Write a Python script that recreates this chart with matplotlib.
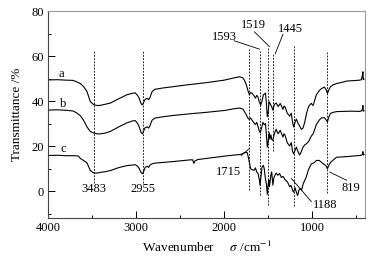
import numpy as np
import matplotlib
matplotlib.use("Agg")
import matplotlib.pyplot as plt
from matplotlib.ticker import MultipleLocator

plt.rcParams['font.family'] = ['Liberation Serif', 'DejaVu Serif']
plt.rcParams['mathtext.fontset'] = 'stix'

# spectrum a  (wavenumber cm-1, transmittance %)
curve_a = [
    (4000, 49.4), (3900, 49.5), (3800, 49.3), (3720, 49.2), (3680, 48.6), (3636, 47.8),
    (3600, 46.5), (3560, 44.2), (3523, 39.8), (3485, 38.4), (3440, 38.0), (3409, 38.1),
    (3350, 38.6), (3295, 39.1), (3200, 41.0), (3106, 42.8), (3040, 43.5), (3011, 43.6),
    (2985, 42.5), (2966, 41.2), (2945, 38.8), (2930, 38.3), (2915, 39.5), (2898, 40.8),
    (2875, 41.2), (2860, 40.6), (2845, 41.5), (2820, 44.2), (2790, 45.2), (2700, 45.8),
    (2580, 46.4), (2400, 47.3), (2200, 48.2), (2000, 49.3), (1900, 50.2), (1828, 50.8),
    (1790, 50.4), (1771, 49.3), (1750, 47.5), (1732, 44.9), (1714, 42.8), (1700, 43.8),
    (1683, 43.5), (1660, 42.3), (1645, 41.3), (1630, 42.5), (1618, 42.0), (1600, 39.5),
    (1585, 38.2), (1570, 40.0), (1554, 42.8), (1531, 43.5), (1520, 39.0), (1510, 33.0),
    (1500, 35.0), (1490, 39.8), (1475, 38.5), (1460, 37.5), (1447, 36.0), (1430, 38.5),
    (1409, 39.1), (1395, 38.2), (1386, 37.6), (1363, 38.9), (1345, 37.5), (1332, 36.3),
    (1320, 37.8), (1306, 37.2), (1283, 34.6), (1256, 33.3), (1237, 34.6), (1225, 31.0),
    (1211, 28.5), (1195, 30.5), (1180, 32.0), (1160, 30.0), (1143, 29.0), (1123, 27.4),
    (1104, 28.0), (1085, 30.5), (1066, 34.1), (1050, 36.5), (1032, 38.1), (1009, 39.0),
    (995, 38.1), (986, 38.3), (970, 40.5), (952, 42.8), (920, 44.6), (895, 45.5),
    (861, 46.2), (840, 45.0), (826, 43.3), (810, 45.0), (792, 46.4), (761, 47.2),
    (723, 47.8), (650, 48.4), (609, 48.9), (520, 49.1), (460, 49.3), (440, 49.5),
    (428, 51.5), (423, 53.0), (419, 49.5), (410, 49.8),
]

# spectrum b
curve_b = [
    (4000, 36.0), (3900, 36.1), (3800, 35.9), (3720, 35.6), (3680, 34.8), (3636, 33.5),
    (3600, 31.5), (3560, 28.5), (3523, 26.5), (3485, 25.8), (3440, 25.4), (3409, 25.4),
    (3350, 25.8), (3295, 26.5), (3200, 28.5), (3106, 30.3), (3040, 31.2), (3011, 31.3),
    (2985, 30.0), (2966, 28.5), (2945, 26.0), (2930, 25.4), (2915, 26.8), (2898, 28.2),
    (2875, 28.5), (2860, 28.0), (2845, 29.0), (2820, 31.5), (2790, 32.4), (2700, 33.0),
    (2580, 33.6), (2400, 34.3), (2200, 35.0), (2000, 35.8), (1900, 36.5), (1828, 36.9),
    (1790, 36.5), (1771, 35.4), (1750, 34.0), (1732, 32.5), (1714, 31.8), (1700, 32.5),
    (1683, 31.5), (1660, 30.2), (1645, 29.6), (1630, 30.5), (1618, 29.0), (1600, 26.5),
    (1590, 26.0), (1575, 28.0), (1560, 30.5), (1545, 29.5), (1531, 30.0), (1520, 25.0),
    (1510, 19.5), (1500, 22.0), (1490, 26.0), (1480, 23.0), (1470, 25.0), (1460, 23.0),
    (1447, 22.5), (1430, 25.5), (1409, 27.5), (1395, 26.0), (1386, 25.5), (1363, 27.0),
    (1345, 25.2), (1332, 24.0), (1320, 25.5), (1306, 24.5), (1283, 21.5), (1256, 20.0),
    (1237, 21.5), (1225, 18.0), (1211, 16.5), (1195, 18.0), (1180, 19.5), (1160, 17.5),
    (1143, 16.0), (1123, 17.5), (1104, 19.5), (1085, 20.5), (1066, 21.0), (1040, 22.0),
    (1009, 24.5), (989, 25.4), (970, 27.5), (952, 29.6), (920, 31.5), (895, 32.5),
    (860, 32.6), (840, 31.5), (826, 30.8), (810, 33.0), (792, 34.5), (760, 35.0),
    (723, 35.3), (650, 35.4), (560, 35.5), (460, 35.4), (440, 35.6), (428, 36.5),
    (423, 38.0), (419, 35.5), (410, 35.7),
]

# spectrum c
curve_c = [
    (4000, 15.8), (3900, 15.9), (3800, 15.7), (3720, 15.7), (3660, 15.6), (3636, 14.5),
    (3600, 13.6), (3560, 12.5), (3523, 9.2), (3485, 8.0), (3440, 8.0), (3409, 8.3),
    (3350, 8.6), (3295, 9.1), (3200, 10.4), (3106, 11.3), (3011, 11.7), (2985, 11.0),
    (2966, 10.0), (2945, 8.2), (2930, 7.7), (2915, 8.8), (2898, 10.6), (2875, 11.0),
    (2860, 10.5), (2845, 11.5), (2820, 12.1), (2790, 12.4), (2580, 13.1), (2400, 13.8),
    (2360, 13.9), (2345, 12.3), (2335, 13.3), (2300, 14.0), (2000, 15.5), (1930, 15.8),
    (1807, 16.3), (1770, 17.0), (1740, 17.2), (1725, 15.0), (1700, 9.9), (1683, 9.5),
    (1660, 9.2), (1645, 10.3), (1630, 8.5), (1615, 7.7), (1600, 5.0), (1593, 2.6),
    (1580, 7.0), (1570, 10.6), (1555, 11.4), (1545, 10.0), (1535, 6.5), (1520, 3.0),
    (1510, -1.5), (1500, 3.0), (1492, 4.8), (1485, 2.0), (1470, 7.0), (1460, 8.5),
    (1447, 2.6), (1435, 6.0), (1409, 8.0), (1390, 7.0), (1370, 7.8), (1350, 6.0),
    (1332, 6.5), (1306, 5.0), (1280, 4.0), (1256, 1.9), (1240, 2.5), (1220, 0.0),
    (1211, -0.5), (1195, 1.5), (1180, -0.5), (1165, -2.0), (1150, 0.4), (1135, 1.2),
    (1120, 0.4), (1100, 3.4), (1066, 6.3), (1045, 9.2), (1009, 12.1), (980, 12.5),
    (952, 13.6), (920, 13.6), (875, 12.1), (845, 11.4), (826, 9.9), (810, 11.5),
    (790, 12.8), (760, 13.8), (723, 15.0), (609, 15.3), (460, 15.8), (440, 15.9),
    (428, 16.5), (423, 17.5), (419, 16.0), (410, 16.2),
]

# marked bands: label, position on axis, dashed line top / bottom
band_labels = ["3483", "2955", "1715", "1593", "1519", "1445", "1188", "819"]
band_pos = [3483, 2926, 1717, 1592, 1507, 1446, 1211, 826]
band_top = [62.1, 62.1, 63.1, 62.4, 63.9, 61.0, 64.6, 61.7]
band_bot = [3.5, 3.5, 0.4, -1.8, -6.1, 18.0, -6.6, -0.9]

fig = plt.figure(figsize=(3.81, 2.58), dpi=100)
ax = fig.add_axes([0.1268, 0.155, 0.831, 0.802])

for crv in (curve_a, curve_b, curve_c):
    wn, t = zip(*crv)
    ax.plot(wn, t, color='black', lw=0.8)

for p, top, bot in zip(band_pos, band_top, band_bot):
    ax.plot([p, p], [bot, top], color='black', lw=0.6, ls=(0, (2.2, 1.6)))

fs = 9
# labels under the dashed lines
ax.text(3483, 0.7, "3483", ha='center', va='center', fontsize=fs)
ax.text(2926, 0.7, "2955", ha='center', va='center', fontsize=fs)
# labels with leader lines: text, text xy, line start, line end
leaders = [
    ("1715", (1952, 8.4), (1807, 15.8), (1717, 18.8)),
    ("1593", (1996, 68.6), (1886, 66.8), (1600, 63.1)),
    ("1519", (1666, 73.6), (1657, 70.8), (1486, 64.2)),
    ("1445", (1243, 72.2), (1332, 69.7), (1420, 61.0)),
    ("1188", (857, -6.1), (1009, -4.7), (1237, 5.6)),
    ("819", (563, 1.3), (800, 8.4), (609, 4.8)),
]
for txt, txy, p0, p1 in leaders:
    ax.text(txy[0], txy[1], txt, ha='center', va='center', fontsize=fs)
    ax.plot([p0[0], p1[0]], [p0[1], p1[1]], color='black', lw=0.6)

ax.text(3847, 52.2, "a", ha='center', va='center', fontsize=fs)
ax.text(3829, 38.6, "b", ha='center', va='center', fontsize=fs)
ax.text(3829, 18.6, "c", ha='center', va='center', fontsize=fs)

ax.set_xlim(4000, 400)
ax.set_ylim(-12, 80)
ax.xaxis.set_major_locator(MultipleLocator(1000))
ax.xaxis.set_minor_locator(MultipleLocator(500))
ax.yaxis.set_major_locator(MultipleLocator(20))
ax.yaxis.set_minor_locator(MultipleLocator(10))
ax.tick_params(which='both', direction='in', labelsize=fs, width=0.7, pad=3)
ax.tick_params(which='major', length=4.8)
ax.tick_params(which='minor', length=2.4)
for s in ('left', 'bottom'):
    ax.spines[s].set_color('#444444')
for s in ('top', 'right'):
    ax.spines[s].set_color('#999999')
for s in ax.spines.values():
    s.set_linewidth(0.8)

ax.set_xlabel("Wavenumber     $\\sigma$ /cm$^{-1}$", fontsize=9.5, labelpad=4)
ax.set_ylabel("Transmittance /%", fontsize=9.5, labelpad=6)

fig.savefig("out.png", dpi=100)
